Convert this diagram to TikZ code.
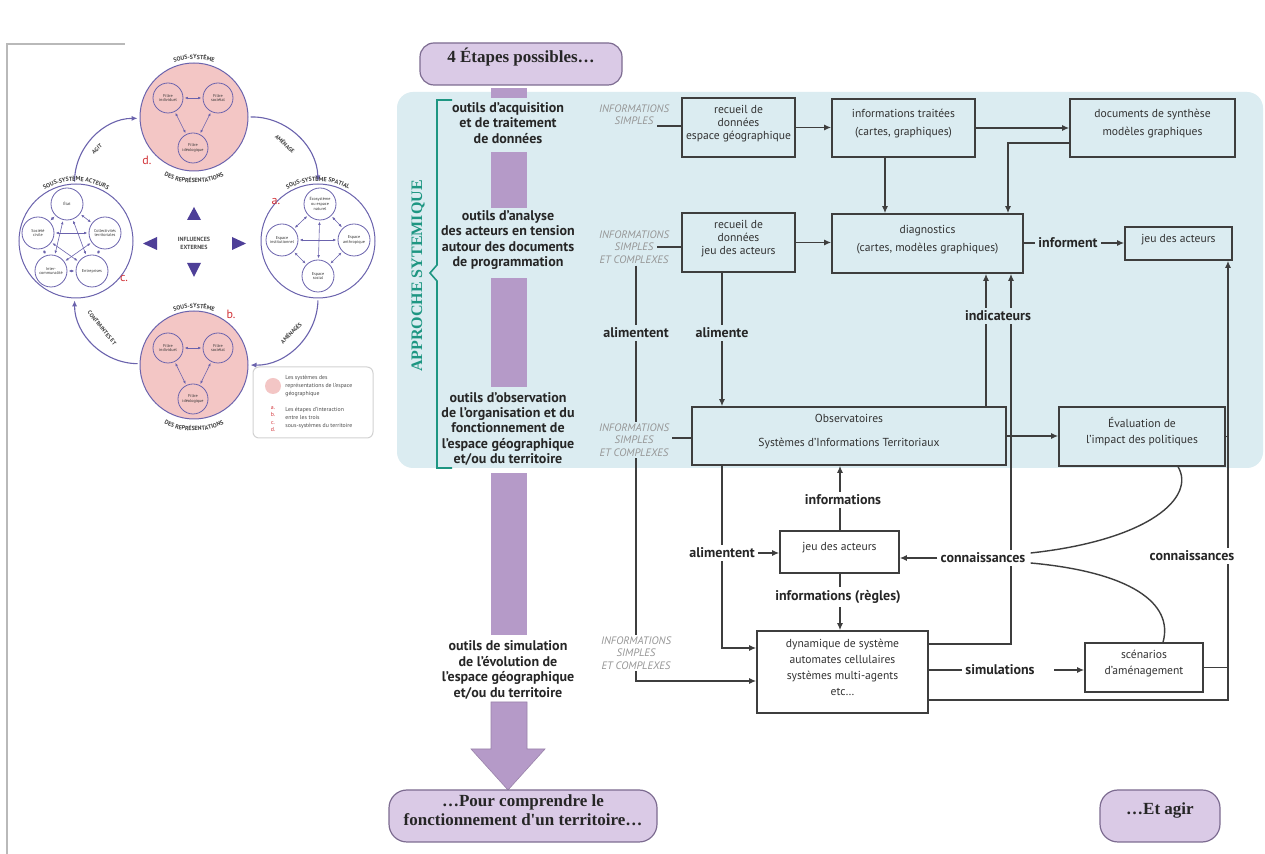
\documentclass[tikz,border=0pt]{standalone}
\usepackage{fontspec}
\setmainfont{PT Sans}
\newfontfamily\tnr{Liberation Serif}
\usetikzlibrary{arrows.meta,fit,decorations.text,calc}
\definecolor{bgblue}{RGB}{219,236,241}
\definecolor{lnc}{RGB}{62,62,62}
\definecolor{txc}{RGB}{50,50,50}
\definecolor{grayt}{RGB}{150,150,150}
\definecolor{barc}{RGB}{181,154,200}
\definecolor{pillfill}{RGB}{218,202,230}
\definecolor{pilld}{RGB}{125,108,145}
\definecolor{teala}{RGB}{30,150,130}
\definecolor{pinkf}{RGB}{243,198,197}
\definecolor{purc}{RGB}{107,99,173}
\definecolor{tric}{RGB}{78,63,152}
\definecolor{redc}{RGB}{210,50,55}
\pgfdeclarelayer{bg}\pgfdeclarelayer{ln}\pgfsetlayers{bg,ln,main}
\newcommand\boxf{\fontsize{5.8}{7}\selectfont}
\newcommand\lblf{\fontsize{7}{7.7}\selectfont\bfseries}
\newcommand\infof{\fontsize{5.4}{6.2}\selectfont\itshape}
\newcommand\pillfont{\tnr\bfseries\fontsize{8.5}{9.8}\selectfont}
\newcommand\curvf{\fontsize{3}{3}\selectfont\bfseries}
\tikzset{
 bx/.style={draw=lnc, line width=0.7pt, inner sep=0pt, align=center, font=\boxf, text=txc},
 lab/.style={font=\lblf, text=black!85, align=center, inner sep=1.5pt},
 info/.style={font=\infof, text=grayt, align=center, inner sep=1pt},
 col/.style={font=\lblf, text=black!85, align=center, inner sep=0pt},
 ln/.style={draw=lnc, line width=0.7pt},
 arr/.style={ln, -{Latex[length=3.6pt,width=3pt]}},
 pill/.style={draw=pilld, line width=0.6pt, fill=pillfill, rounded corners=7pt, font=\pillfont, align=center, inner sep=0pt, text=black!85},
 rc/.style={circle, draw=purc, line width=0.5pt, inner sep=0pt},
 sm/.style={circle, draw=purc, line width=0.4pt, inner sep=0pt, minimum size=15pt, font=\fontsize{2.1}{2.4}\selectfont, align=center, text=black!80},
 sma/.style={draw=purc, line width=0.3pt, {Latex[length=1.6pt,width=1.3pt]}-{Latex[length=1.6pt,width=1.3pt]}, shorten <=0.6pt, shorten >=0.6pt},
 ring/.style={draw=purc, line width=0.55pt, -{Latex[length=3pt,width=2.6pt]}, shorten >=1pt, shorten <=1pt},
 arcl/.style={font=\fontsize{2.8}{3}\selectfont\bfseries, text=black!75, inner sep=0pt},
 redl/.style={font=\fontsize{6}{6}\selectfont, text=redc, inner sep=0pt},
 curv/.style={decorate, decoration={text along path, text align=center, text color=black!75, text={|\curvf|#1}}},
}
\begin{document}
\begin{tikzpicture}[x=0.5pt,y=-0.5pt]
\useasboundingbox (0,0) rectangle (1265,854);
\begin{pgfonlayer}{bg}
\fill[white] (0,0) rectangle (1265,854);
\fill[bgblue, rounded corners=8pt] (397,92) rectangle (1263,468);
% purple column
\fill[barc] (491,88) rectangle (527,98);
\fill[barc] (491,152) rectangle (527,208);
\fill[barc] (491,278) rectangle (527,387);
\fill[barc] (491,473) rectangle (527,635);
\filldraw[fill=barc, draw=barc!85!black, line width=0.3pt] (491,702) -- (527,702) -- (527,749) -- (545,749) -- (508,790) -- (471,749) -- (491,749) -- cycle;
\end{pgfonlayer}

% left panel frame
\draw[gray!55, line width=0.8pt] (7,854) -- (7,44) -- (125,44);

% ---------------- left diagram ----------------
\node[rc, fill=pinkf, minimum size=54pt] (repT) at (194,117) {};
\node[rc, fill=pinkf, minimum size=54pt] (repB) at (194,365) {};
\node[rc, fill=white, minimum size=57pt] (act) at (76,241) {};
\node[rc, fill=white, minimum size=57pt] (spa) at (318,241) {};

\draw[ring] (act) to[bend left=45] (repT);
\draw[ring] (repT) to[bend left=45] (spa);
\draw[ring] (spa) to[bend left=45] (repB);
\draw[ring] (repB) to[bend left=45] (act);

\node[sm, fill=pinkf] (f1t) at (168,98) {Filtre\\individuel};
\node[sm, fill=pinkf] (f2t) at (218,98) {Filtre\\sociétal};
\node[sm, fill=pinkf] (f3t) at (193,148) {Filtre\\idéologique};
\draw[sma] (f1t) -- (f2t); \draw[sma] (f1t) -- (f3t); \draw[sma] (f2t) -- (f3t);
\node[sm, fill=pinkf] (f1b) at (168,348) {Filtre\\individuel};
\node[sm, fill=pinkf] (f2b) at (218,348) {Filtre\\sociétal};
\node[sm, fill=pinkf] (f3b) at (193,399) {Filtre\\idéologique};
\draw[sma] (f1b) -- (f2b); \draw[sma] (f1b) -- (f3b); \draw[sma] (f2b) -- (f3b);

\node[sm, fill=white, minimum size=16pt] (ae) at (67,204) {État};
\node[sm, fill=white, minimum size=16pt] (ac) at (105,233) {Collectivités\\territoriales};
\node[sm, fill=white, minimum size=16pt] (an) at (92,271) {Entreprises};
\node[sm, fill=white, minimum size=16pt] (ai) at (51,271) {Inter-\\communalité};
\node[sm, fill=white, minimum size=16pt] (as) at (38,233) {Société\\civile};
\foreach \a/\b in {ae/ac,ac/an,an/ai,ai/as,as/ae,ae/an,ae/ai,ac/ai,ac/as,as/an} \draw[sma] (\a) -- (\b);

\node[sm, fill=white, minimum size=16pt] (se) at (320,204) {Écosystème\\ou espace\\naturel};
\node[sm, fill=white, minimum size=16pt] (sa) at (354,240) {Espace\\anthropique};
\node[sm, fill=white, minimum size=16pt] (ss) at (318,276) {Espace\\social};
\node[sm, fill=white, minimum size=16pt] (si) at (282,240) {Espace\\institutionnel};
\foreach \a/\b in {se/sa,sa/ss,ss/si,si/se,se/ss,si/sa} \draw[sma] (\a) -- (\b);

\path[curv={SOUS-SYSTÈME}] plot[domain=0:1,samples=25] ({194+58*cos(135-90*\x)},{117-58*sin(135-90*\x)});
\path[curv={DES REPRÉSENTATIONS}] plot[domain=0:1,samples=25] ({194+66*cos(215+110*\x)},{117-66*sin(215+110*\x)});
\path[curv={SOUS-SYSTÈME SPATIAL}] plot[domain=0:1,samples=25] ({318+60*cos(150-120*\x)},{241-60*sin(150-120*\x)});
\path[curv={SOUS-SYSTÈME ACTEURS}] plot[domain=0:1,samples=25] ({76+60*cos(150-120*\x)},{241-60*sin(150-120*\x)});
\path[curv={SOUS-SYSTÈME}] plot[domain=0:1,samples=25] ({194+57*cos(135-90*\x)},{365-57*sin(135-90*\x)});
\path[curv={DES REPRÉSENTATIONS}] plot[domain=0:1,samples=25] ({194+66*cos(215+110*\x)},{365-66*sin(215+110*\x)});

\node[arcl, rotate=40] (lagit) at (97,149) {AGIT};
\node[arcl, rotate=-43] (lamen) at (285,144) {AMÉNAGE};
\node[arcl, rotate=45] (lamens) at (291,333) {AMÉNAGÉS};
\node[arcl, rotate=-51] (lcont) at (102,328) {CONTRAINTES ET};

\node[redl] (rd) at (147,160) {d.};
\node[redl] (ra) at (276,202) {a.};
\node[redl] (rcc) at (124,279) {c.};
\node[redl] (rb) at (231,314) {b.};

\node[font=\fontsize{3}{4}\selectfont\bfseries, align=center, text=black!70] (infl) at (194,243) {INFLUENCES\\EXTERNES};
\fill[tric] (187,220) -- (201,220) -- (194,207) -- cycle;
\fill[tric] (187,263) -- (201,263) -- (194,277) -- cycle;
\fill[tric] (157,237) -- (157,250) -- (143,243.5) -- cycle;
\fill[tric] (232,237) -- (232,250) -- (246,243.5) -- cycle;

\node[draw=gray!35, line width=0.5pt, rounded corners=3pt, inner sep=0pt, fit={(253,367) (373,438)}] (leg) {};
\node[circle, fill=pinkf, minimum size=8pt, inner sep=0pt] (legc) at (273,386) {};
\node[anchor=west, font=\fontsize{2.9}{4}\selectfont, align=left, text=black!70, inner sep=0pt] (legt1) at (285,386) {Les systèmes des\\représentations de l'espace\\géographique};
\node[font=\fontsize{2.9}{3.6}\selectfont, align=center, text=redc, inner sep=0pt] (legab) at (273,419) {a.\\b.\\c.\\d.};
\node[anchor=west, font=\fontsize{2.9}{4}\selectfont, align=left, text=black!70, inner sep=0pt] (legt2) at (285,418) {Les étapes d'interaction\\entre les trois\\sous-systèmes du territoire};

% ---------------- right diagram ----------------
\node[pill, fit={(420,43) (622,85)}] (p1) {4 Étapes possibles…};
\node[pill, rounded corners=9pt, fit={(389,790) (657,842)}] (p2) {…Pour comprendre le\\fonctionnement d'un territoire…};
\node[pill, rounded corners=9pt, fit={(1100,790) (1220,842)}] (p3) {…Et agir};

\draw[teala, line width=0.8pt] (452,100) -- (437,100) -- (437,265) -- (430,273) -- (437,281) -- (437,468) -- (452,468);
\node[rotate=90, font=\tnr\bfseries\fontsize{8}{8}\selectfont, text=teala, inner sep=0pt] (appr) at (418,276) {APPROCHE SYTEMIQUE};

\node[col] (t1) at (508,123) {outils d'acquisition\\et de traitement\\de données};
\node[col] (t2) at (508,240) {outils d'analyse\\des acteurs en tension\\autour des documents\\de programmation};
\node[col] (t3) at (508,429) {outils d'observation\\de l'organisation et du\\fonctionnement de\\l'espace géographique\\et/ou du territoire};
\node[col] (t4) at (508,670) {outils de simulation\\de l'évolution de\\l'espace géographique\\et/ou du territoire};

\node[info] (info1) at (634,115) {INFORMATIONS\\SIMPLES};
\node[info] (info2) at (634,247) {INFORMATIONS\\SIMPLES\\ET COMPLEXES};
\node[info, fill=bgblue] (info3) at (634,440) {INFORMATIONS\\SIMPLES\\ET COMPLEXES};
\node[info, fill=white] (info4) at (636,653) {INFORMATIONS\\SIMPLES\\ET COMPLEXES};

\node[bx, fit={(682,98) (795,157)}, font={\fontsize{5.8}{6.6}\selectfont}] (b1) {recueil de\\données\\espace géographique};
\node[bx, fit={(682,213) (795,272)}, font={\fontsize{5.8}{6.6}\selectfont}] (b2) {recueil de\\données\\jeu des acteurs};
\node[bx, fit={(832,99) (975,157)}, font={\fontsize{5.8}{9}\selectfont}] (b3) {informations traitées\\(cartes, graphiques)};
\node[bx, fit={(1070,99) (1235,157)}, font={\fontsize{5.8}{9}\selectfont}] (b4) {documents de synthèse\\modèles graphiques};
\node[bx, fit={(832,214) (1023,273)}, font={\fontsize{5.8}{9}\selectfont}] (b5) {diagnostics\\(cartes, modèles graphiques)};
\node[bx, fit={(1125,227) (1232,260)}] (b6) {jeu des acteurs};
\node[bx, fit={(692,407) (1006,465)}] (obs) {Observatoires\\[5pt]Systèmes d'Informations Territoriaux};
\node[bx, fit={(1059,407) (1225,466)}, font={\fontsize{5.8}{8}\selectfont}] (eval) {Évaluation de\\l'impact des politiques};
\node[bx, fill=white, fit={(780,531) (899,573)}] (j2) {jeu des acteurs};
\node[bx, fill=white, fit={(757,631) (928,713)}, font={\fontsize{5.8}{8}\selectfont}] (sim) {dynamique de système\\automates cellulaires\\systèmes multi-agents\\etc…};
\node[bx, fill=white, fit={(1085,643) (1203,692)}, font={\fontsize{5.8}{8}\selectfont}] (scen) {scénarios\\d'aménagement};

\node[lab, fill=bgblue] (inf) at (1068,243) {informent};
\node[lab, fill=bgblue] (alim1) at (636,333) {alimentent};
\node[lab, fill=bgblue] (alim) at (722,333) {alimente};
\node[lab, fill=bgblue] (ind) at (998,316) {indicateurs};
\node[lab, fill=white] (infos) at (843,500) {informations};
\node[lab, fill=white] (alim2) at (722,553) {alimentent};
\node[lab, fill=white] (regl) at (838,597) {informations (règles)};
\node[lab, fill=white] (conn) at (983,558) {connaissances};
\node[lab, fill=white] (conn2) at (1192,556) {connaissances};
\node[lab, fill=white] (simu) at (1000,670) {simulations};

\coordinate (i1s) at (657,126);
\coordinate (i2s) at (657,247);
\coordinate (i3s) at (672,438);
\coordinate (xa) at (885,0);
\coordinate (k1) at (1008,143);
\coordinate (xL) at (636,0);
\coordinate (yS) at (0,681);
\coordinate (xA) at (722,0);
\coordinate (yS2) at (0,648);
\coordinate (xI) at (840,0);
\coordinate (xD1) at (986,0);
\coordinate (xD2) at (1011,0);
\coordinate (yS3) at (0,644);
\coordinate (xR) at (1228,0);
\coordinate (yS4) at (0,700);
\coordinate (xE1) at (1178,0);
\coordinate (xE2) at (1163,0);

\begin{pgfonlayer}{ln}
\draw[ln] (i1s) -- (b1.west |- i1s);
\draw[ln] (i2s) -- (b2.west |- i2s);
\draw[ln] (i3s) -- (obs.west |- i3s);
\draw[arr] (b1.east) -- (b3.west |- b1.east);
\draw[arr] (b3.east) -- (b4.west |- b3.east);
\draw[arr] (b3.south -| xa) -- (b5.north -| xa);
\draw[arr] (b4.west |- k1) -| (b5.north -| k1);
\draw[arr] (b2.east) -- (b5.west |- b2.east);
\draw[ln] (b5.east |- inf) -- (inf.west);
\draw[arr] (inf.east) -- (b6.west |- inf);
\draw[arr] (info2.south -| xL) |- (sim.west |- yS);
\draw[arr] (b2.south -| xA) -- (obs.north -| xA);
\draw[arr] (obs.south -| xA) |- (sim.west |- yS2);
\draw[arr] (alim2.east) -- (j2.west |- alim2);
\draw[arr] (j2.north -| xI) -- (obs.south -| xI);
\draw[arr] (j2.south -| xI) -- (sim.north -| xI);
\draw[arr] (conn.west) -- (j2.east |- conn);
\draw[ln] ($(conn.east)+(2,-5)$) .. controls (1150,540) and (1196,497) .. (eval.south -| xE1);
\draw[ln] ($(conn.east)+(2,5)$) .. controls (1130,572) and (1174,603) .. (scen.north -| xE2);
\draw[arr] (obs.north -| xD1) -- (b5.south -| xD1);
\draw[arr] (sim.east |- yS3) -| (b5.south -| xD2);
\draw[arr] (obs.east) -- (eval.west |- obs.east);
\draw[arr] (sim.east |- yS4) -| (b6.south -| xR);
\draw[ln] (eval.east) -- (eval.east -| xR);
\draw[ln] (scen.east) -- (scen.east -| xR);
\draw[ln] (sim.east |- simu) -- (simu.west);
\draw[arr] ($(simu.east)+(16,0)$) -- (scen.west |- simu);
\end{pgfonlayer}
\end{tikzpicture}
\end{document}
